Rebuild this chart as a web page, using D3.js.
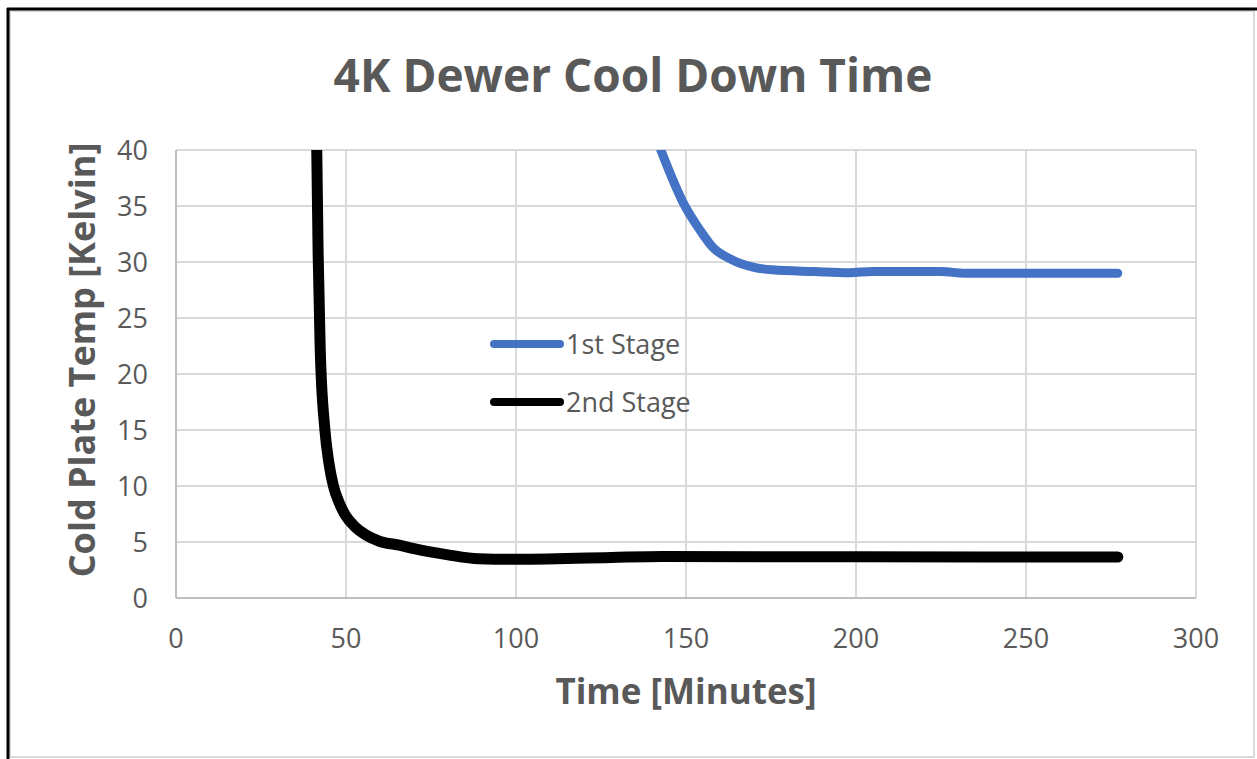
<!DOCTYPE html>
<html>
<head>
<meta charset="utf-8">
<script src="https://cdn.jsdelivr.net/npm/d3@7/dist/d3.min.js"></script>
<style>
  html, body { margin: 0; padding: 0; background: #fff; }
  svg { display: block; }
  text { font-family: "Open Sans", "Noto Sans", sans-serif; fill: #595959; }
</style>
</head>
<body>
<svg id="chart" width="1257" height="759"></svg>
<script>
// Readings (minutes, kelvin)
const stage1Time = [142.6, 149.5, 154, 157.9, 163.5, 169.7, 175.3, 187.6, 198, 205, 225, 232, 277];
const stage1Temp = [40, 35.1, 32.9, 31.3, 30.2, 29.55, 29.3, 29.15, 29.05, 29.15, 29.15, 29.0, 29.0];

const stage2Time = [41.4, 41.8, 42.4, 43.8, 45, 46.3, 48, 50, 52.5, 56, 60, 66, 70, 80, 89, 99, 128, 143, 200, 277];
const stage2Temp = [40, 30.8, 22.4, 15, 12, 10, 8.5, 7.3, 6.4, 5.6, 5.05, 4.7, 4.4, 3.85, 3.5, 3.45, 3.62, 3.7, 3.68, 3.66];

const xTicks = [0, 50, 100, 150, 200, 250, 300];
const yTicks = [0, 5, 10, 15, 20, 25, 30, 35, 40];

const series = [
  { name: "1st Stage", color: "#4472c4", width: 9, t: stage1Time, v: stage1Temp },
  { name: "2nd Stage", color: "#000000", width: 11, t: stage2Time, v: stage2Temp },
];

const svg = d3.select("#chart");

// outer frame
svg.append("rect").attr("x", 10).attr("y", 11).attr("width", 1244).attr("height", 746)
  .attr("fill", "#fff").attr("stroke", "#d9d9d9").attr("stroke-width", 2);
svg.append("line").attr("x1", 7).attr("x2", 1257).attr("y1", 9).attr("y2", 9)
  .attr("stroke", "#000").attr("stroke-width", 3);
svg.append("line").attr("x1", 8).attr("x2", 8).attr("y1", 8).attr("y2", 759)
  .attr("stroke", "#000").attr("stroke-width", 3);

const x = d3.scaleLinear().domain([0, 300]).range([176, 1196]);
const y = d3.scaleLinear().domain([0, 40]).range([598, 150]);

// gridlines
const grid = svg.append("g");
grid.selectAll("line.v").data(xTicks).join("line")
  .attr("x1", (d) => x(d)).attr("x2", (d) => x(d))
  .attr("y1", y(0)).attr("y2", y(40))
  .attr("stroke", "#d9d9d9").attr("stroke-width", 2);
grid.selectAll("line.h").data(yTicks).join("line")
  .attr("x1", x(0)).attr("x2", x(300))
  .attr("y1", (d) => y(d)).attr("y2", (d) => y(d))
  .attr("stroke", "#d9d9d9").attr("stroke-width", 2);
// axis lines
svg.append("line").attr("x1", x(0)).attr("x2", x(0)).attr("y1", y(0)).attr("y2", y(40))
  .attr("stroke", "#bfbfbf").attr("stroke-width", 2);
svg.append("line").attr("x1", x(0)).attr("x2", x(300)).attr("y1", y(0)).attr("y2", y(0))
  .attr("stroke", "#bfbfbf").attr("stroke-width", 2);

// tick labels
svg.append("g").selectAll("text").data(xTicks).join("text")
  .attr("x", (d) => x(d)).attr("y", 648)
  .attr("text-anchor", "middle").attr("font-size", 27).text((d) => d);
svg.append("g").selectAll("text").data(yTicks).join("text")
  .attr("x", 148).attr("y", (d) => y(d) + 10)
  .attr("text-anchor", "end").attr("font-size", 27).text((d) => d);

// lines
const line = d3.line().x((d) => x(d[0])).y((d) => y(d[1])).curve(d3.curveMonotoneX);
svg.append("clipPath").attr("id", "plot")
  .append("rect").attr("x", x(0)).attr("y", y(40)).attr("width", x(300) - x(0)).attr("height", y(0) - y(40));
svg.append("g").attr("clip-path", "url(#plot)")
  .selectAll("path").data(series).join("path")
  .attr("fill", "none").attr("stroke", (d) => d.color).attr("stroke-width", (d) => d.width)
  .attr("stroke-linecap", "round").attr("stroke-linejoin", "round")
  .attr("d", (d) => line(d.t.map((t, i) => [t, d.v[i]])));

// legend
const leg = svg.append("g").selectAll("g").data(series).join("g")
  .attr("transform", (d, i) => `translate(494,${344 + i * 58})`);
leg.append("line").attr("x1", 0).attr("x2", 66)
  .attr("stroke", (d) => d.color).attr("stroke-width", 8).attr("stroke-linecap", "round");
leg.append("text").attr("x", 72).attr("y", 10).attr("font-size", 27).text((d) => d.name);

// titles
svg.append("text").attr("x", 633).attr("y", 92).attr("text-anchor", "middle")
  .attr("font-size", 46).attr("font-weight", "bold").text("4K Dewer Cool Down Time");
svg.append("text").attr("x", 686).attr("y", 704).attr("text-anchor", "middle")
  .attr("font-size", 35).attr("font-weight", "bold").text("Time [Minutes]");
svg.append("text").attr("transform", "translate(95,360) rotate(-90)").attr("text-anchor", "middle")
  .attr("font-size", 36).attr("font-weight", "bold").text("Cold Plate Temp [Kelvin]");
</script>
</body>
</html>
